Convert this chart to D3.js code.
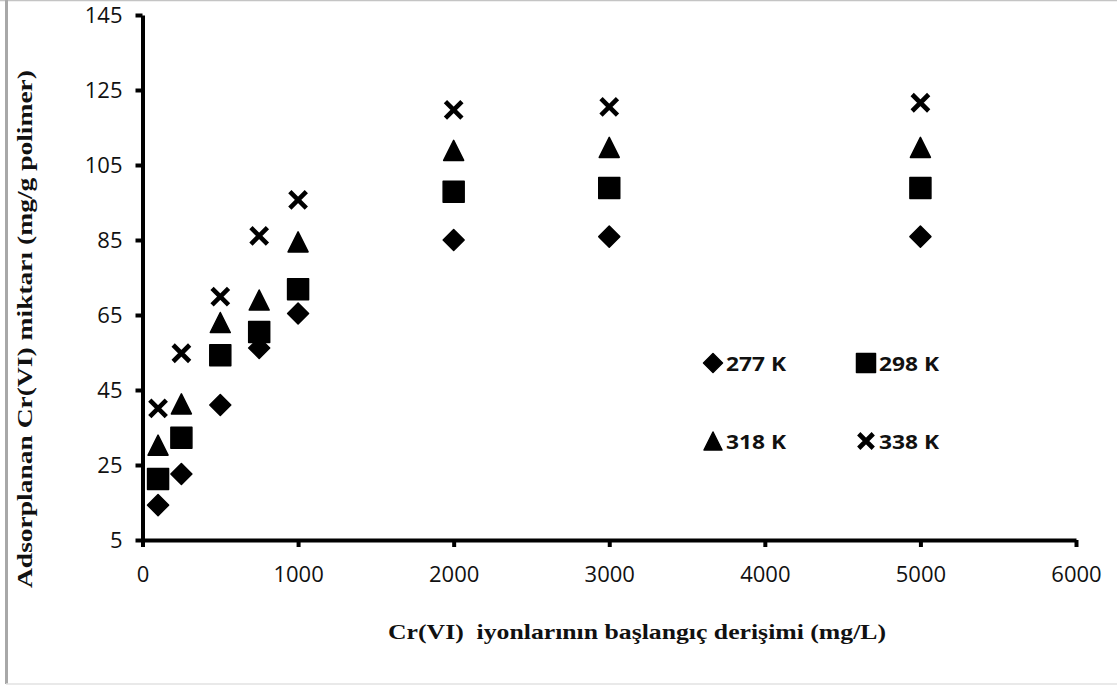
<!DOCTYPE html>
<html>
<head>
<meta charset="utf-8">
<script src="https://cdn.jsdelivr.net/npm/d3@7"></script>
<style>
  html, body { margin: 0; padding: 0; background: #fff; }
  svg { display: block; }
</style>
</head>
<body>
<script>
// Initial Cr(VI) concentrations (mg/L)
const concentrations = [100, 250, 500, 750, 1000, 2000, 3000, 5000];

// Adsorbed amount (mg/g polymer) at each temperature
const q277 = [14.3, 22.6, 41.0, 56.2, 65.4, 85.0, 85.9, 85.9];
const q298 = [21.3, 32.3, 54.3, 60.5, 71.9, 97.9, 98.9, 98.9];
const q318 = [30.3, 41.3, 63.0, 69.0, 84.5, 108.9, 109.7, 109.7];
const q338 = [40.1, 54.8, 69.9, 86.1, 95.7, 119.7, 120.5, 121.6];

const seriesNames = ["277 K", "298 K", "318 K", "338 K"];
const seriesShapes = ["diamond", "square", "triangle", "cross"];
const seriesValues = [q277, q298, q318, q338];

const xTicks = [0, 1000, 2000, 3000, 4000, 5000, 6000];
const yTicks = [5, 25, 45, 65, 85, 105, 125, 145];

const W = 1117, H = 685;
const svg = d3.select("body").append("svg").attr("width", W).attr("height", H);

// outer frame
svg.append("line").attr("x1", 0).attr("x2", W).attr("y1", 0.5).attr("y2", 0.5)
  .attr("stroke", "#c4c4c4").attr("stroke-width", 1.5);
svg.append("line").attr("x1", 6.5).attr("x2", 6.5).attr("y1", 0).attr("y2", 684)
  .attr("stroke", "#a8a8a8").attr("stroke-width", 3);
svg.append("line").attr("x1", 6).attr("x2", W).attr("y1", 684).attr("y2", 684)
  .attr("stroke", "#e2e2e2").attr("stroke-width", 1.5);

const x = d3.scaleLinear().domain([0, 6000]).range([142.5, 1076]);
const y = d3.scaleLinear().domain([5, 145]).range([540, 15]);

const tickFont = "'Open Sans', sans-serif";

// axes
const xAxis = svg.append("g").attr("transform", `translate(0,${y(5)})`)
  .call(d3.axisBottom(x).tickValues(xTicks).tickFormat(d3.format("d"))
    .tickSize(7).tickSizeOuter(0).tickPadding(19));
const yAxis = svg.append("g").attr("transform", `translate(${x(0)},0)`)
  .call(d3.axisLeft(y).tickValues(yTicks).tickFormat(d3.format("d"))
    .tickSize(7).tickSizeOuter(0).tickPadding(13));

[xAxis, yAxis].forEach(g => {
  g.select(".domain").attr("stroke", "#000").attr("stroke-width", 4);
  g.selectAll(".tick line").attr("stroke", "#000").attr("stroke-width", 4);
  g.selectAll(".tick text").attr("fill", "#111")
    .style("font-family", tickFont).style("font-size", "22px");
});
xAxis.selectAll(".tick text").attr("dy", "0.71em");
yAxis.selectAll(".tick text").attr("dy", "0.36em");

// axis titles
svg.append("text")
  .attr("x", 637).attr("y", 639)
  .attr("text-anchor", "middle")
  .attr("xml:space", "preserve").style("white-space", "pre")
  .style("font-family", "'Liberation Serif', 'Times New Roman', serif")
  .style("font-weight", "bold").style("font-size", "21px")
  .attr("fill", "#111")
  .attr("textLength", 498).attr("lengthAdjust", "spacingAndGlyphs")
  .text("Cr(VI)  iyonlarının başlangıç derişimi (mg/L)");

svg.append("text")
  .attr("transform", "translate(32,329) rotate(-90)")
  .attr("text-anchor", "middle")
  .style("font-family", "'Liberation Serif', 'Times New Roman', serif")
  .style("font-weight", "bold").style("font-size", "21px")
  .attr("fill", "#111")
  .attr("textLength", 518).attr("lengthAdjust", "spacingAndGlyphs")
  .text("Adsorplanan Cr(VI) miktarı (mg/g polimer)");

// marker shapes centred on (0,0)
function shapePath(kind, s) {
  const h = s / 2;
  if (kind === "diamond") return `M0,${-h}L${h},0L0,${h}L${-h},0Z`;
  if (kind === "square") return `M${-h},${-h}H${h}V${h}H${-h}Z`;
  if (kind === "triangle") return `M0,${-h}L${h},${h}L${-h},${h}Z`;
  return `M${-h},${-h}L${h},${h}M${h},${-h}L${-h},${h}`;
}
function drawMarker(g, kind, size) {
  const p = g.append("path").attr("d", shapePath(kind, size));
  if (kind === "cross") {
    p.attr("fill", "none").attr("stroke", "#000").attr("stroke-width", 4.6).attr("stroke-linecap", "butt");
  } else {
    p.attr("fill", "#000").attr("stroke", "#000").attr("stroke-width", 1.5).attr("stroke-linejoin", "round");
  }
}
const markerSize = { diamond: 21, square: 21, triangle: 20, cross: 16.5 };

// data points
seriesValues.forEach((vals, i) => {
  const kind = seriesShapes[i];
  const g = svg.append("g").attr("class", "series-" + i);
  vals.forEach((v, j) => {
    const m = g.append("g").attr("transform", `translate(${x(concentrations[j])},${y(v)})`);
    drawMarker(m, kind, markerSize[kind]);
  });
});

// legend (2 x 2)
const legendPos = [[713, 363], [866, 363], [713, 441], [866, 441]];
seriesNames.forEach((name, i) => {
  const [lx, ly] = legendPos[i];
  const g = svg.append("g").attr("transform", `translate(${lx},${ly})`);
  drawMarker(g, seriesShapes[i], markerSize[seriesShapes[i]] - 2);
  g.append("text").attr("x", 13).attr("y", 8)
    .style("font-family", tickFont).style("font-weight", "bold").style("font-size", "20px")
    .attr("fill", "#111").attr("textLength", 60).attr("lengthAdjust", "spacingAndGlyphs")
    .text(name);
});
</script>
</body>
</html>
